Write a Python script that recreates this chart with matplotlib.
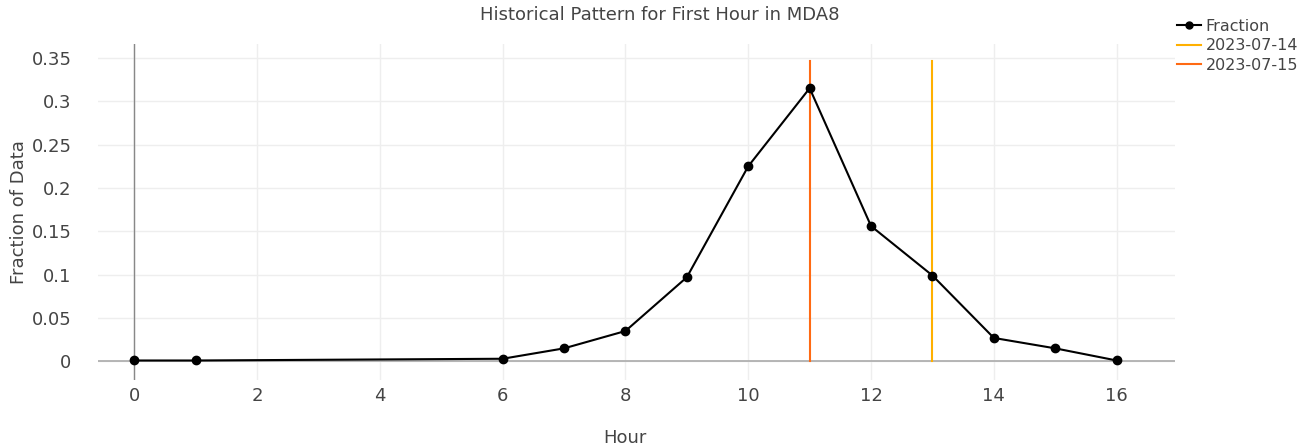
import matplotlib
matplotlib.use("Agg")
import matplotlib.pyplot as plt
from matplotlib.lines import Line2D

hours = [0, 1, 6, 7, 8, 9, 10, 11, 12, 13, 14, 15, 16]
fraction = [0.001, 0.001, 0.003, 0.015, 0.035, 0.097, 0.225, 0.315, 0.156, 0.099, 0.027, 0.015, 0.001]
event_dates = ["2023-07-14", "2023-07-15"]
event_hours = [13, 11]
event_colors = ["#FFB000", "#FF6A13"]
xticks = [0, 2, 4, 6, 8, 10, 12, 14, 16]
yticks = [0, 0.05, 0.1, 0.15, 0.2, 0.25, 0.3, 0.35]
ytick_labels = ["0", "0.05", "0.1", "0.15", "0.2", "0.25", "0.3", "0.35"]

plt.rcParams["font.family"] = ["DejaVu Sans"]
txt = "#444444"

fig = plt.figure(figsize=(13.09, 4.48), dpi=100)
ax = fig.add_axes([98 / 1309, 1 - 380 / 448, (1175 - 98) / 1309, (380 - 44) / 448])

ax.set_xlim(-0.59, 16.95)
ax.set_ylim(-0.0215, 0.366)

for s in ax.spines.values():
    s.set_visible(False)
ax.grid(True, color="#eeeeee", linewidth=1)
ax.set_axisbelow(True)
ax.axhline(0, color="#aaaaaa", linewidth=1.2, zorder=1)
ax.axvline(0, color="#888888", linewidth=1, zorder=1)

ax.plot(hours, fraction, color="black", marker="o", markersize=6, linewidth=1.5, zorder=3, label="Fraction")
top = max(fraction) * 1.1
for d, h, c in zip(event_dates, event_hours, event_colors):
    ax.plot([h, h], [0, top], color=c, linewidth=1.5, zorder=2, label=d)

ax.set_xticks(xticks)
ax.set_yticks(yticks)
ax.set_yticklabels(ytick_labels)
ax.tick_params(length=0, labelsize=13, colors=txt)
ax.tick_params(axis="y", pad=19)
ax.tick_params(axis="x", pad=5)
fig.text(625 / 1309, 1 - 438 / 448, "Hour", ha="center", va="center", fontsize=13, color=txt)
fig.text(19 / 1309, 1 - 212 / 448, "Fraction of Data", ha="center", va="center", rotation=90,
         fontsize=13, color=txt)
fig.text(660 / 1309, 1 - 15 / 448, "Historical Pattern for First Hour in MDA8", ha="center", va="center",
         fontsize=13, color=txt)

handles = [Line2D([], [], color="black", marker="o", markersize=5, linewidth=1.5)] + \
          [Line2D([], [], color=c, linewidth=1.5) for c in event_colors]
fig.legend(handles, ["Fraction"] + event_dates, loc="upper left", bbox_to_anchor=(1177 / 1309, 1 - 19 / 448),
           frameon=False, fontsize=11.5, labelcolor=txt, handlelength=1.5, handletextpad=0.3,
           labelspacing=0.28, borderpad=0, borderaxespad=0)

fig.savefig("out.png", dpi=100)
